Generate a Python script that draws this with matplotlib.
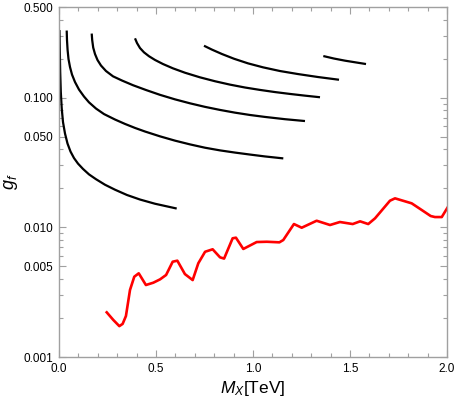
import matplotlib
matplotlib.use("Agg")
import matplotlib.pyplot as plt
from matplotlib.ticker import FixedLocator, NullFormatter

plt.rcParams['font.family'] = ['Liberation Sans', 'DejaVu Sans']
plt.rcParams['mathtext.fontset'] = 'custom'
plt.rcParams['mathtext.it'] = 'Liberation Sans:italic'
plt.rcParams['mathtext.rm'] = 'Liberation Sans'

# Black contour curves (M_X [TeV], g_f)
c1_x = [0.0026, 0.0041, 0.0062, 0.0093, 0.0139, 0.0206, 0.0309, 0.0438, 0.0593, 0.0773,
        0.0979, 0.1237, 0.1546, 0.1907, 0.2371, 0.2887, 0.3505, 0.4175, 0.4948, 0.6067]
c1_y = [0.3319, 0.2328, 0.1575, 0.1104, 0.0832, 0.0648, 0.0529, 0.0443, 0.0384, 0.0342,
        0.0310, 0.0282, 0.0256, 0.0235, 0.0213, 0.0195, 0.01775, 0.01638, 0.01520, 0.01396]

c2_x = [0.0397, 0.0412, 0.0443, 0.0490, 0.0567, 0.0670, 0.0825, 0.1031, 0.1289, 0.1546,
        0.1907, 0.2320, 0.2887, 0.3402, 0.3918, 0.4433, 0.5206, 0.5979, 0.6753, 0.7526,
        0.8299, 0.9072, 0.9845, 1.0619, 1.1562]
c2_y = [0.3292, 0.2780, 0.2328, 0.1984, 0.1722, 0.1507, 0.1319, 0.1154, 0.1020, 0.0920,
        0.0824, 0.0747, 0.0678, 0.0627, 0.0584, 0.0548, 0.0503, 0.0466, 0.0436, 0.0411,
        0.0392, 0.0377, 0.0364, 0.0352, 0.0340]

c3_x = [0.1686, 0.1711, 0.1763, 0.1856, 0.1985, 0.2165, 0.2423, 0.2784, 0.3247, 0.3814,
        0.4485, 0.5206, 0.5979, 0.6753, 0.7526, 0.8299, 0.9072, 0.9845, 1.0619, 1.1649, 1.2680]
c3_y = [0.3120, 0.2780, 0.2433, 0.2169, 0.1950, 0.1768, 0.1604, 0.1460, 0.1355, 0.1247,
        0.1145, 0.1051, 0.0970, 0.0904, 0.0849, 0.0804, 0.0766, 0.0735, 0.0710, 0.0682, 0.0660]

c4_x = [0.3918, 0.4021, 0.4175, 0.4381, 0.4639, 0.4948, 0.5361, 0.5876, 0.6495, 0.7268,
        0.8041, 0.8814, 0.9588, 1.0361, 1.1134, 1.1907, 1.2680, 1.3454]
c4_y = [0.2866, 0.2637, 0.2412, 0.2235, 0.2086, 0.1953, 0.1816, 0.1682, 0.1556, 0.1434,
        0.1338, 0.1260, 0.1197, 0.1147, 0.1104, 0.1068, 0.1036, 0.1007]

c5_x = [0.7474, 0.7887, 0.8402, 0.9021, 0.9742, 1.0515, 1.1392, 1.2320, 1.3351, 1.4433]
c5_y = [0.2513, 0.2345, 0.2169, 0.1995, 0.1838, 0.1713, 0.1604, 0.1520, 0.1442, 0.1374]

c6_x = [1.3624, 1.4175, 1.4742, 1.5825]
c6_y = [0.2093, 0.2002, 0.1928, 0.1816]

# Red limit curve
red_x = [0.246, 0.280, 0.311, 0.328, 0.345, 0.366, 0.388, 0.411, 0.448, 0.486,
         0.521, 0.552, 0.586, 0.610, 0.649, 0.689, 0.718, 0.753, 0.792, 0.830,
         0.851, 0.895, 0.912, 0.950, 1.019, 1.071, 1.136, 1.156, 1.211, 1.251,
         1.328, 1.397, 1.448, 1.514, 1.552, 1.594, 1.629, 1.706, 1.732, 1.818,
         1.870, 1.916, 1.938, 1.973, 2.010]
red_y = [0.00221, 0.00193, 0.00173, 0.00180, 0.00207, 0.00329, 0.00416, 0.00442, 0.00359, 0.00374,
         0.00397, 0.00429, 0.00543, 0.00553, 0.00436, 0.00392, 0.00528, 0.00648, 0.00677, 0.00587,
         0.00574, 0.00823, 0.00832, 0.00681, 0.00770, 0.00774, 0.00766, 0.00798, 0.0106, 0.00993,
         0.01124, 0.01042, 0.01099, 0.0106, 0.01112, 0.0106, 0.01173, 0.01604, 0.01673, 0.01531,
         0.01359, 0.01222, 0.0120, 0.0120, 0.0148]

y_major = [0.001, 0.005, 0.01, 0.05, 0.1, 0.5]
y_major_labels = ["0.001", "0.005", "0.010", "0.050", "0.100", "0.500"]
x_major = [0.0, 0.5, 1.0, 1.5, 2.0]
x_major_labels = ["0.0", "0.5", "1.0", "1.5", "2.0"]

fig = plt.figure(figsize=(4.57, 4.04), dpi=100)
ax = fig.add_axes([59/457, 1-357/404, (447-59)/457, (357-7)/404])

for cx, cy in [(c1_x, c1_y), (c2_x, c2_y), (c3_x, c3_y), (c4_x, c4_y), (c5_x, c5_y), (c6_x, c6_y)]:
    ax.plot(cx, cy, color='black', lw=1.6, solid_capstyle='butt', solid_joinstyle='round')
ax.plot(red_x, red_y, color='#ff0000', lw=1.9, solid_joinstyle='round')

ax.set_yscale('log')
ax.set_xlim(0, 2.0)
ax.set_ylim(0.001, 0.5)

ax.yaxis.set_major_locator(FixedLocator(y_major))
ax.set_yticklabels(y_major_labels)
minors = []
for dec in [0.001, 0.01, 0.1]:
    for m in range(2, 10):
        v = m * dec
        if v < 0.5 and m != 5:
            minors.append(v)
ax.yaxis.set_minor_locator(FixedLocator(minors))
ax.yaxis.set_minor_formatter(NullFormatter())

ax.xaxis.set_major_locator(FixedLocator(x_major))
ax.set_xticklabels(x_major_labels)
ax.xaxis.set_minor_locator(FixedLocator([i / 10 for i in range(21) if i % 5 != 0]))

frame_col = '#a0a0a0'
for s in ax.spines.values():
    s.set_color(frame_col)
    s.set_linewidth(1.0)

ax.tick_params(which='both', direction='in', top=True, right=True, color=frame_col,
               labelsize=8.5, labelcolor='black', width=0.8)
ax.tick_params(which='major', length=5, pad=4)
ax.tick_params(which='minor', length=3)

ax.set_xlabel('$M_X$[TeV]', fontsize=12.5, labelpad=3)
ax.set_ylabel('$g_f$', fontsize=13, labelpad=3)

fig.savefig('out.png', dpi=100)
